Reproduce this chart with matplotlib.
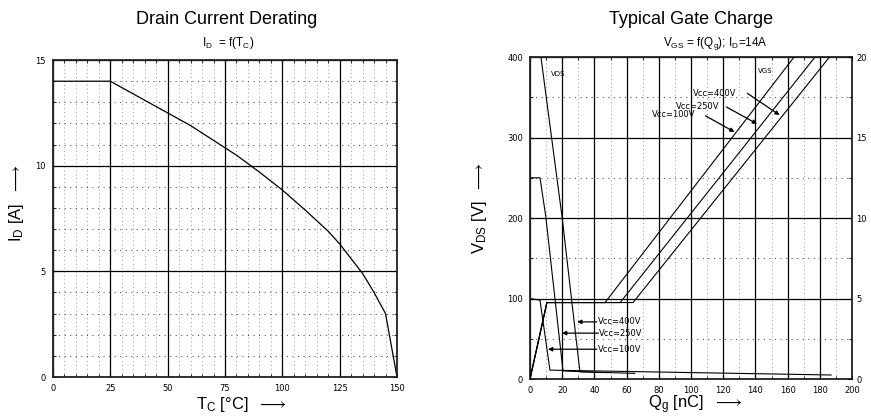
import matplotlib
matplotlib.use('Agg')
import matplotlib.pyplot as plt
from matplotlib.ticker import MultipleLocator

plt.rcParams['font.family'] = ['Liberation Sans', 'DejaVu Sans']
plt.rcParams['mathtext.fontset'] = 'custom'
plt.rcParams['mathtext.rm'] = 'Liberation Sans'
plt.rcParams['mathtext.it'] = 'Liberation Sans:italic'
plt.rcParams['mathtext.fallback'] = 'stixsans'

# Drain current derating: I_D over case temperature
tc = [0, 25, 30, 40, 50, 60, 70, 80, 90, 100, 110, 120, 125, 130, 135, 140, 145, 150]
i_d = [14.0, 14.0, 13.7, 13.1, 12.5, 11.9, 11.2, 10.5, 9.7, 8.85, 7.9, 6.9, 6.3, 5.6, 4.9, 4.0, 3.0, 0.0]

# Gate charge: V_DS (left axis) for the three supply voltages
q_vds_100 = [0, 6.2, 12.4, 187]
vds_100 = [100, 98, 11, 5]
q_vds_250 = [0, 6.2, 9.8, 20.5, 45]
vds_250 = [250, 250, 202, 10, 8]
q_vds_400 = [0, 6.8, 20, 31, 65]
vds_400 = [400, 400, 200, 9, 7]

# Gate charge: V_GS (right axis)
q_vgs_100 = [0, 10.5, 46.6, 164]
q_vgs_250 = [0, 10.5, 56, 177]
q_vgs_400 = [0, 10.5, 64, 186]
vgs = [0, 4.75, 4.75, 20]

vcc_labels = ['Vcc=400V', 'Vcc=250V', 'Vcc=100V']

fig = plt.figure(figsize=(8.71, 4.17), dpi=100)


def style_axes(ax):
    ax.tick_params(which='both', direction='in', top=True, right=True, pad=5)
    ax.tick_params(which='major', length=3, width=0.8)
    ax.tick_params(which='minor', length=2.5, width=0.6)
    for lab in ax.get_xticklabels() + ax.get_yticklabels():
        lab.set_fontfamily('DejaVu Sans')
        lab.set_fontsize(6)
    for s in ax.spines.values():
        s.set_linewidth(1.3)
        s.set_color('#222222')
    ax.grid(which='major', color='black', lw=0.9, ls='-')
    ax.grid(which='minor', axis='y', color='#555555', lw=0.8, ls=(0, (1, 4)))
    ax.grid(which='minor', axis='x', color='#999999', lw=0.7, ls=(0, (1, 3)))
    ax.set_axisbelow(True)


# ---------- left: drain current derating ----------
ax1 = fig.add_axes([0.0608, 0.0959, 0.395, 0.760])
ax1.plot(tc, i_d, color='black', lw=0.9)
ax1.set_xlim(0, 150)
ax1.set_ylim(0, 15)
ax1.xaxis.set_major_locator(MultipleLocator(25))
ax1.xaxis.set_minor_locator(MultipleLocator(5))
ax1.yaxis.set_major_locator(MultipleLocator(5))
ax1.yaxis.set_minor_locator(MultipleLocator(1))
style_axes(ax1)
ax1.set_xlabel(r'T$_\mathrm{C}$ [°C]  $\longrightarrow$', fontsize=12, va='center')
ax1.set_ylabel(r'I$_\mathrm{D}$ [A]  $\longrightarrow$', fontsize=12, va='center')
ax1.xaxis.set_label_coords(0.547, -0.088)
ax1.yaxis.set_label_coords(-0.105, 0.55)

fig.text(227 / 871, 1 - 20 / 417, 'Drain Current Derating', fontsize=13,
         ha='center', va='center')
fig.text(228 / 871, 1 - 43 / 417, r'I$_\mathrm{D}$  = f(T$_\mathrm{C}$)', fontsize=8.5,
         ha='center', va='center')

# ---------- right: typical gate charge ----------
ax2 = fig.add_axes([0.6085, 0.0911, 0.3697, 0.772])
for q, v in [(q_vds_100, vds_100), (q_vds_250, vds_250), (q_vds_400, vds_400)]:
    ax2.plot(q, v, color='black', lw=0.8)
ax2.set_xlim(0, 200)
ax2.set_ylim(0, 400)
ax2.xaxis.set_major_locator(MultipleLocator(20))
ax2.xaxis.set_minor_locator(MultipleLocator(10))
ax2.yaxis.set_major_locator(MultipleLocator(100))
ax2.yaxis.set_minor_locator(MultipleLocator(50))
style_axes(ax2)
ax2.tick_params(which='both', right=False)
ax2.set_xlabel(r'Q$_\mathrm{g}$ [nC]  $\longrightarrow$', fontsize=12, va='center')
ax2.set_ylabel(r'V$_\mathrm{DS}$ [V]  $\longrightarrow$', fontsize=12, va='center')
ax2.xaxis.set_label_coords(0.512, -0.081)
ax2.yaxis.set_label_coords(-0.158, 0.53)

ax3 = ax2.twinx()
for q in [q_vgs_100, q_vgs_250, q_vgs_400]:
    ax3.plot(q, vgs, color='black', lw=0.8)
ax3.set_ylim(0, 20)
ax3.yaxis.set_major_locator(MultipleLocator(5))
ax3.yaxis.set_minor_locator(MultipleLocator(2.5))
ax3.tick_params(which='both', direction='in', pad=3)
ax3.tick_params(which='major', length=3)
ax3.tick_params(which='minor', length=2.5)
for lab in ax3.get_yticklabels():
    lab.set_fontfamily('DejaVu Sans')
    lab.set_fontsize(6)
for s in ax3.spines.values():
    s.set_visible(False)

fig.text(691 / 871, 1 - 20 / 417, 'Typical Gate Charge', fontsize=13,
         ha='center', va='center')
fig.text(715 / 871, 1 - 44 / 417, r'V$_\mathrm{GS}$ = f(Q$_\mathrm{g}$); I$_\mathrm{D}$=14A',
         fontsize=8.5, ha='center', va='center')

# curve labels
ax2.text(17.4, 379, 'VDS', fontsize=5, family='DejaVu Sans', ha='center', va='center')
ax2.text(146, 383, 'VGS', fontsize=5, family='DejaVu Sans', ha='center', va='center')

arrow = dict(arrowstyle='-|>', color='black', lw=0.9, mutation_scale=6,
             shrinkA=0, shrinkB=0)

# upper labels pointing at the V_GS slopes
top_text = [(115, 355), (104, 339), (89.5, 329)]
top_tail = [(135, 355), (122, 338), (109, 327)]
top_head = [(155, 328), (141, 317), (127, 307)]
for lab, t, a, b in zip(vcc_labels, top_text, top_tail, top_head):
    ax2.text(t[0], t[1], lab, fontsize=6, family='DejaVu Sans', ha='center', va='center')
    ax2.annotate('', xy=b, xytext=a, arrowprops=arrow)

# lower labels pointing at the V_DS drops
low_text = [(42, 71), (43, 57), (42, 37)]
low_head = [(29.3, 71), (19.9, 57), (11.2, 37)]
for lab, t, b in zip(vcc_labels, low_text, low_head):
    ax2.text(t[0], t[1], lab, fontsize=6, family='DejaVu Sans', ha='left', va='center')
    ax2.annotate('', xy=b, xytext=(t[0] - 0.5, t[1]), arrowprops=arrow)

fig.savefig('out.png', dpi=100)
